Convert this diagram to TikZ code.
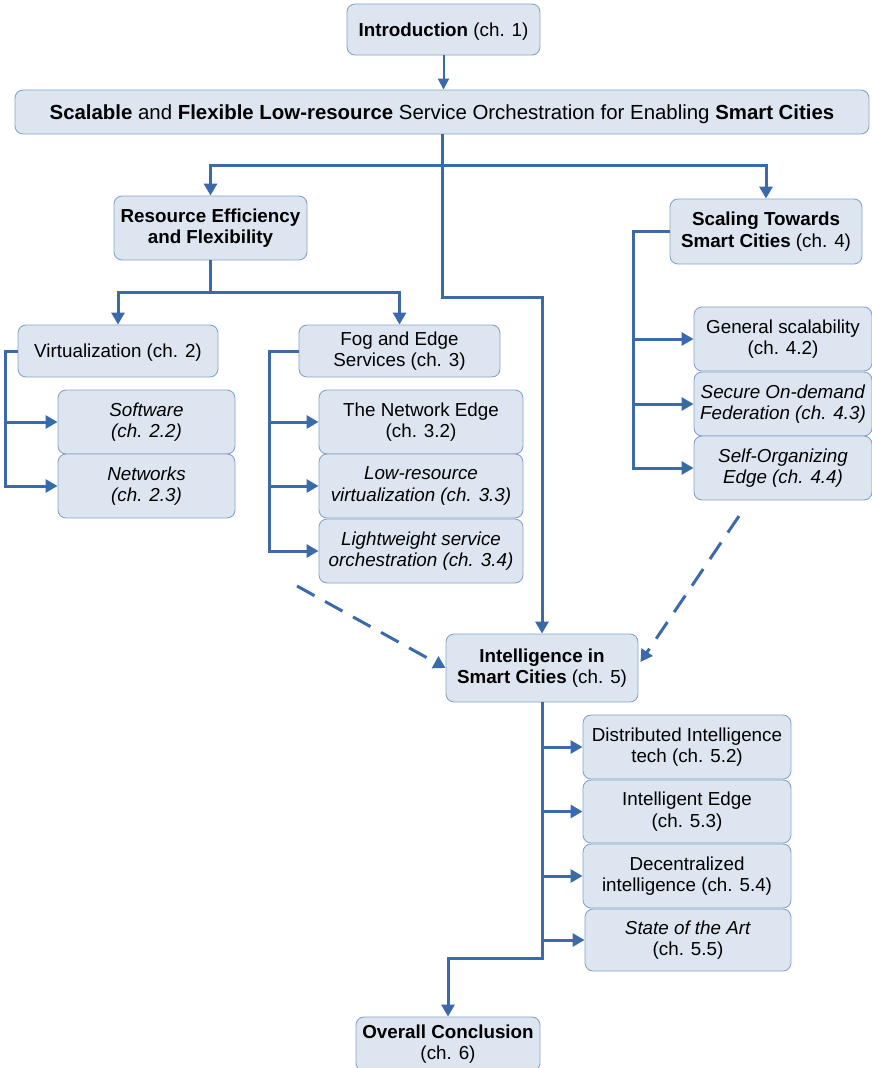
\documentclass[tikz,border=0pt]{standalone}
\usepackage{fontspec}
\setmainfont{Liberation Sans}
\usetikzlibrary{arrows.meta,calc}
\definecolor{boxfill}{RGB}{221,230,240}
\definecolor{boxline}{RGB}{135,162,200}
\definecolor{conncol}{RGB}{58,106,170}
\tikzset{
  box/.style={draw=boxline,fill=boxfill,rounded corners=8pt,align=center,line width=0.9pt,inner sep=0pt,
    font=\fontsize{18.8}{21.5}\selectfont,execute at begin node={\rule{0pt}{0.94em}}},
  conn/.style={draw=conncol,line width=3pt,-{Triangle[length=12pt,width=13pt]}},
  thinconn/.style={draw=conncol,line width=2pt,-{Triangle[length=11pt,width=11pt]}},
  dconn/.style={conn,dash pattern=on 20pt off 12pt},
}
\begin{document}
\begin{tikzpicture}[x=1pt,y=-1pt]
\useasboundingbox (0,0) rectangle (871,1068);
\node[box,minimum width=193,minimum height=51] (intro) at (443.5,29.5) {\textbf{Introduction} (ch. 1)};
\node[box,minimum width=854,minimum height=44,font=\fontsize{20.4}{23}\selectfont] (main) at (442,112) {\textbf{Scalable} and \textbf{Flexible Low-resource} Service Orchestration for Enabling \textbf{Smart Cities}};
\node[box,minimum width=193,minimum height=64] (res) at (210.5,228) {\textbf{Resource Efficiency}\\\textbf{and Flexibility}};
\node[box,minimum width=192,minimum height=65] (scal) at (766,231.5) {\textbf{Scaling Towards}\\\textbf{Smart Cities} (ch. 4)};
\node[box,minimum width=200,minimum height=52] (virt) at (118,351) {Virtualization (ch. 2)};
\node[box,minimum width=177,minimum height=64] (soft) at (146.5,422) {\textit{Software}\\\textit{(ch. 2.2)}};
\node[box,minimum width=177,minimum height=64] (netw) at (146.5,486) {\textit{Networks}\\\textit{(ch. 2.3)}};
\node[box,minimum width=201,minimum height=52] (fog) at (399.5,351) {Fog and Edge\\Services (ch. 3)};
\node[box,minimum width=204,minimum height=64] (nedge) at (421,422) {The Network Edge\\(ch. 3.2)};
\node[box,minimum width=204,minimum height=64] (lowres) at (421,486) {\textit{Low-resource}\\\textit{virtualization (ch. 3.3)}};
\node[box,minimum width=204,minimum height=64] (light) at (421,551) {\textit{Lightweight service}\\\textit{orchestration (ch. 3.4)}};
\node[box,minimum width=178,minimum height=64] (gen) at (783,339) {General scalability\\(ch. 4.2)};
\node[box,minimum width=178,minimum height=64] (secure) at (783,404) {\textit{Secure On-demand}\\\textit{Federation (ch. 4.3)}};
\node[box,minimum width=178,minimum height=64] (self) at (783,468) {\textit{Self-Organizing}\\\textit{Edge (ch. 4.4)}};
\node[box,minimum width=192,minimum height=68] (intel) at (542,668) {\textbf{Intelligence in}\\\textbf{Smart Cities} (ch. 5)};
\node[box,minimum width=208,minimum height=64] (dist) at (687,747) {Distributed Intelligence\\tech (ch. 5.2)};
\node[box,minimum width=208,minimum height=63] (iedge) at (687,811.5) {Intelligent Edge\\(ch. 5.3)};
\node[box,minimum width=208,minimum height=64] (decen) at (687,876) {Decentralized\\intelligence (ch. 5.4)};
\node[box,minimum width=206,minimum height=62] (sota) at (688,940) {\textit{State of the Art}\\(ch. 5.5)};
\node[box,minimum width=184,minimum height=54] (concl) at (448,1044) {\textbf{Overall Conclusion}\\(ch. 6)};
% connectors
\draw[thinconn] (intro.south) -- (main.north -| intro.south);
\draw[conn] (main.south) -- ++(0,31) -| (res.north);
\draw[conn] (main.south) -- ++(0,31) -| (scal.north);
\draw[conn] (main.south) -- ++(0,163) -| (intel.north);
\draw[conn] (res.south) -- ++(0,32) -| (virt.north);
\draw[conn] (res.south) -- ++(0,32) -| (fog.north);
\draw[conn] (virt.west) -- ++(-12,0) |- (soft.west);
\draw[conn] (virt.west) -- ++(-12,0) |- (netw.west);
\draw[conn] (fog.west) -- ++(-29,0) |- (nedge.west);
\draw[conn] (fog.west) -- ++(-29,0) |- (lowres.west);
\draw[conn] (fog.west) -- ++(-29,0) |- (light.west);
\draw[conn] (scal.west) -- ++(-36,0) |- (gen.west);
\draw[conn] (scal.west) -- ++(-36,0) |- (secure.west);
\draw[conn] (scal.west) -- ++(-36,0) |- (self.west);
\draw[conn] (intel.south) |- (dist.west);
\draw[conn] (intel.south) |- (iedge.west);
\draw[conn] (intel.south) |- (decen.west);
\draw[conn] (intel.south) |- (sota.west);
\draw[conn] (intel.south) -- ++(0,256) -| (concl.north);
\coordinate (dl) at (297,586);
\coordinate (dr) at (739,516);
\draw[dconn] (dl) -- (intel.west);
\draw[dconn] (dr) -- ($(intel.east)+(2,-6)$);
\end{tikzpicture}
\end{document}
